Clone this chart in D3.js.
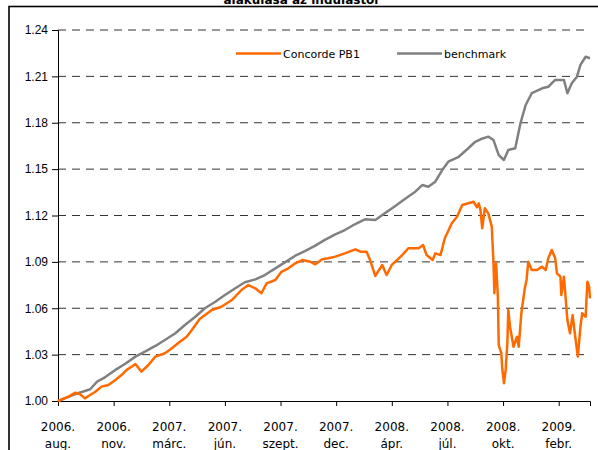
<!DOCTYPE html>
<html>
<head>
<meta charset="utf-8">
<script src="https://cdn.jsdelivr.net/npm/d3@7"></script>
<style>
  body { margin: 0; background: #fff; }
  svg { display: block; font-family: "DejaVu Sans", Verdana, sans-serif; }
</style>
</head>
<body>
<svg id="chart"></svg>
<script>
// trading-day index of each tick label (one label every 64 days)
const tickDays = [0, 64, 128, 192, 256, 320, 384, 448, 512, 576];
const tickYears = ["2006.", "2006.", "2007.", "2007.", "2007.", "2007.", "2008.", "2008.", "2008.", "2009."];
const tickMonths = ["aug.", "nov.", "márc.", "jún.", "szept.", "dec.", "ápr.", "júl.", "okt.", "febr."];
const yTicks = [1.00, 1.03, 1.06, 1.09, 1.12, 1.15, 1.18, 1.21, 1.24];

// benchmark
const benchDays = [0, 8, 20, 31, 37, 45, 54, 66, 77, 89, 100, 112, 123, 135, 146, 158, 169, 181, 192, 204,
  215, 227, 238, 250, 261, 273, 284, 296, 307, 319, 330, 342, 353, 365, 376, 388, 399, 411, 419, 426,
  434, 442, 449, 461, 472, 480, 486, 495, 501, 507, 513, 518, 526, 532, 538, 545, 557, 564, 572, 582,
  586, 591, 597, 601, 607, 612];
const benchValues = [1.0000, 1.0017, 1.0045, 1.0065, 1.0076, 1.0125, 1.0153, 1.0201, 1.0239, 1.0287,
  1.0319, 1.0356, 1.0395, 1.0438, 1.0492, 1.0545, 1.0600, 1.0642, 1.0686, 1.0729,
  1.0768, 1.0787, 1.0815, 1.0858, 1.0897, 1.0940, 1.0970, 1.1005, 1.1042, 1.1078,
  1.1106, 1.1145, 1.1175, 1.1171, 1.1214, 1.1262, 1.1307, 1.1354, 1.1397, 1.1386,
  1.1419, 1.1494, 1.1548, 1.1580, 1.1635, 1.1677, 1.1693, 1.1710, 1.1688, 1.1591,
  1.1559, 1.1624, 1.1635, 1.1796, 1.1915, 1.1991, 1.2023, 1.2033, 1.2077, 1.2077,
  1.1991, 1.2055, 1.2098, 1.2174, 1.2227, 1.2217];

// Concorde PB1
const fundDays = [0, 12, 20, 25, 31, 35, 43, 50, 58, 66, 73, 79, 86, 89, 96, 104, 112, 123, 131, 138,
  148, 154, 163, 177, 188, 200, 211, 219, 227, 234, 240, 250, 257, 265, 273, 281, 290, 296, 304, 311,
  319, 330, 342, 348, 355, 359, 365, 373, 378, 384, 396, 403, 415, 420, 424, 431, 434, 440, 445, 453,
  459, 465, 472, 478, 482, 484, 486, 488, 491, 495, 499, 501, 502, 504, 506, 507, 510, 511, 513, 515,
  517, 518, 520, 524, 528, 530, 533, 537, 539, 541, 545, 551, 557, 561, 564, 568, 572, 574, 578, 579,
  582, 586, 589, 592, 595, 598, 601, 603, 607, 609, 611, 612];
const fundValues = [1.0000, 1.0028, 1.0054, 1.0045, 1.0017, 1.0032, 1.0060, 1.0093, 1.0104, 1.0136,
  1.0168, 1.0201, 1.0226, 1.0239, 1.0190, 1.0233, 1.0287, 1.0309, 1.0341, 1.0373,
  1.0416, 1.0459, 1.0530, 1.0589, 1.0610, 1.0653, 1.0718, 1.0750, 1.0729, 1.0697,
  1.0761, 1.0783, 1.0836, 1.0858, 1.0891, 1.0912, 1.0901, 1.0884, 1.0917, 1.0923,
  1.0934, 1.0955, 1.0981, 1.0966, 1.0966, 1.0912, 1.0809, 1.0880, 1.0815, 1.0880,
  1.0944, 1.0988, 1.0988, 1.1009, 1.0944, 1.0912, 1.0955, 1.0944, 1.1053, 1.1150,
  1.1192, 1.1268, 1.1279, 1.1289, 1.1253, 1.1279, 1.1236, 1.1117, 1.1247, 1.1214,
  1.1128, 1.0891, 1.0697, 1.0891, 1.0675, 1.0362, 1.0309, 1.0212, 1.0115, 1.0201,
  1.0384, 1.0589, 1.0481, 1.0351, 1.0416, 1.0351, 1.0567, 1.0729, 1.0783, 1.0901,
  1.0847, 1.0847, 1.0869, 1.0847, 1.0923, 1.0977, 1.0923, 1.0826, 1.0804, 1.0686,
  1.0804, 1.0524, 1.0438, 1.0556, 1.0416, 1.0287, 1.0481, 1.0567, 1.0545, 1.0772,
  1.0739, 1.0664];

const width = 598;
const height = 450;
const margin = {left: 58, right: 8, top: 30, bottom: 49};

const svg = d3.select("#chart")
  .attr("width", width)
  .attr("height", height);

// outer chart frame (runs past the right and bottom edges)
svg.append("rect")
  .attr("x", 9)
  .attr("y", 6.5)
  .attr("width", 620)
  .attr("height", 480)
  .attr("fill", "none")
  .attr("stroke", "#000")
  .attr("stroke-width", 1.6);

// title, mostly cut off at the top
svg.append("text")
  .attr("x", 301)
  .attr("y", 3.5)
  .attr("text-anchor", "middle")
  .style("font-size", "12px")
  .style("font-weight", "bold")
  .text("alakulása az indulástól");

const x = d3.scaleLinear()
  .domain([0, 612])
  .range([margin.left, width - margin.right]);

const y = d3.scaleLinear()
  .domain([1.00, 1.24])
  .range([height - margin.bottom, margin.top]);

// dashed gridlines
svg.append("g")
  .selectAll("line")
  .data(yTicks.slice(1))
  .enter()
  .append("line")
  .attr("x1", margin.left)
  .attr("x2", width - margin.right)
  .attr("y1", d => y(d))
  .attr("y2", d => y(d))
  .attr("stroke", "#333")
  .attr("stroke-width", 1)
  .attr("stroke-dasharray", "8,6");

// y axis
const yAxis = svg.append("g")
  .attr("transform", `translate(${margin.left},0)`)
  .call(d3.axisLeft(y).tickValues(yTicks).tickFormat(d3.format(".2f")).tickSize(6).tickPadding(4));
yAxis.selectAll("text").style("font-size", "12px").attr("fill", "#000");

// x axis
const xAxis = svg.append("g")
  .attr("transform", `translate(0,${height - margin.bottom})`)
  .call(d3.axisBottom(x).tickValues(tickDays).tickSize(5).tickFormat(""));

const labels = svg.append("g")
  .selectAll("text")
  .data(tickDays)
  .enter()
  .append("text")
  .attr("x", d => x(d))
  .attr("text-anchor", "middle")
  .style("font-size", "12px");
labels.append("tspan").attr("x", d => x(d)).attr("y", 431).text((d, i) => tickYears[i]);
labels.append("tspan").attr("x", d => x(d)).attr("y", 448).text((d, i) => tickMonths[i]);

svg.selectAll(".domain").attr("stroke", "#000");

// series
const line = d3.line()
  .x(d => x(d[0]))
  .y(d => y(d[1]));

svg.append("path")
  .datum(benchDays.map((d, i) => [d, benchValues[i]]))
  .attr("fill", "none")
  .attr("stroke", "#808080")
  .attr("stroke-width", 2.5)
  .attr("stroke-linejoin", "round")
  .attr("d", line);

svg.append("path")
  .datum(fundDays.map((d, i) => [d, fundValues[i]]))
  .attr("fill", "none")
  .attr("stroke", "#ff6a00")
  .attr("stroke-width", 2.5)
  .attr("stroke-linejoin", "round")
  .attr("d", line);

// legend
const legendItems = [
  {name: "Concorde PB1", color: "#ff6a00", x: 236},
  {name: "benchmark", color: "#808080", x: 397}
];
const legend = svg.append("g")
  .selectAll("g")
  .data(legendItems)
  .enter()
  .append("g");

legend.append("line")
  .attr("x1", d => d.x)
  .attr("x2", d => d.x + 45)
  .attr("y1", 53.5)
  .attr("y2", 53.5)
  .attr("stroke", d => d.color)
  .attr("stroke-width", 2.5);

legend.append("text")
  .attr("x", d => d.x + 47)
  .attr("y", 58)
  .style("font-size", "11px")
  .text(d => d.name);
</script>
</body>
</html>
